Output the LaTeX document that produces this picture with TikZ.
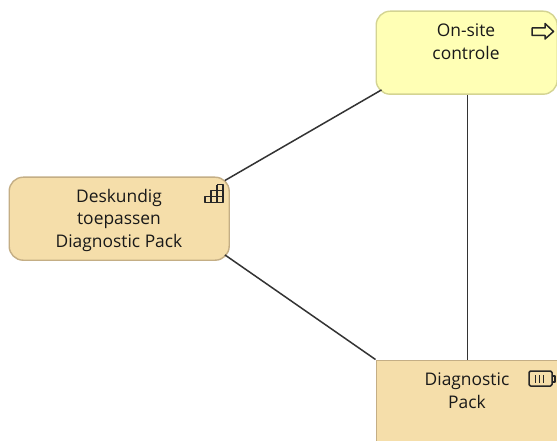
\documentclass[tikz,border=0pt]{standalone}
\usepackage{fontspec}
\setmainfont{Open Sans}
\usetikzlibrary{calc}
\definecolor{yel}{HTML}{FFFFB5}
\definecolor{yelb}{HTML}{D4D492}
\definecolor{tan}{HTML}{F5DEAA}
\definecolor{tanb}{HTML}{C4AE85}
\definecolor{ln}{HTML}{333333}
\tikzset{
  x=1pt,y=-1pt,
  elem/.style={minimum width=181pt,minimum height=83pt,inner sep=0pt,line width=1.4pt},
  rnd/.style={rounded corners=14pt},
  lbl/.style={align=center,font=\fontsize{17.4pt}{22.5pt}\selectfont,text=black!90,inner sep=0pt,anchor=north},
  conn/.style={draw=ln,line width=1.5pt},
  ico/.style={draw=black!85,line width=1.5pt,line join=round},
}
\begin{document}
\begin{tikzpicture}
\useasboundingbox (0,0) rectangle (557,441);
\clip (0,0) rectangle (557,441);
\fill[white] (0,0) rectangle (557,441);
% elements
\node[elem,rnd,draw=yelb,fill=yel,anchor=north west] (onsite) at (375.5,10.5) {};
\node[elem,rnd,draw=tanb,fill=tan,anchor=north west,minimum width=220pt] (desk) at (8.5,176.5) {};
\node[elem,draw=tanb,fill=tan,anchor=north west,minimum height=120pt] (pack) at (375.5,359.5) {};
% connectors
\draw[conn] ($(onsite.south west)+(6,-5)$) -- ($(desk.north east)+(-5,4)$);
\draw[conn] ($(desk.south east)+(-5,-6)$) -- (pack.north west);
\draw[conn] (onsite.south -| 467.5,0) -- (pack.north -| 467.5,0);
% labels
\node[lbl] (t1) at (466,24) {On-site\\controle};
\node[lbl] (t2) at (119,189) {Deskundig\\toepassen\\Diagnostic Pack};
\node[lbl] (t3) at (467,373) {Diagnostic\\Pack};
% icon: process arrow
\draw[ico] (532,28) -- (545,28) -- (545,23.5) -- (553.5,31.5) -- (545,39) -- (545,35.5) -- (532,35.5) -- cycle;
% icon: function stairs
\draw[ico] (205,202.5) rectangle (223,196.5)
  (211,196.5) -- (211,190.5) -- (223,190.5)
  (217,184.5) -- (217,202.5)
  (217,184.5) -- (223,184.5) -- (223,196.5)
  (211,196.5) -- (211,202.5);
% icon: battery
\draw[ico,rounded corners=1.5pt] (529,371) rectangle (552,386);
\draw[ico] (552,376) -- (555,376) -- (555,382) -- (552,382);
\draw[ico] (535.5,375) -- (535.5,383) (539.5,375) -- (539.5,383) (543.5,375) -- (543.5,383);
\end{tikzpicture}
\end{document}
